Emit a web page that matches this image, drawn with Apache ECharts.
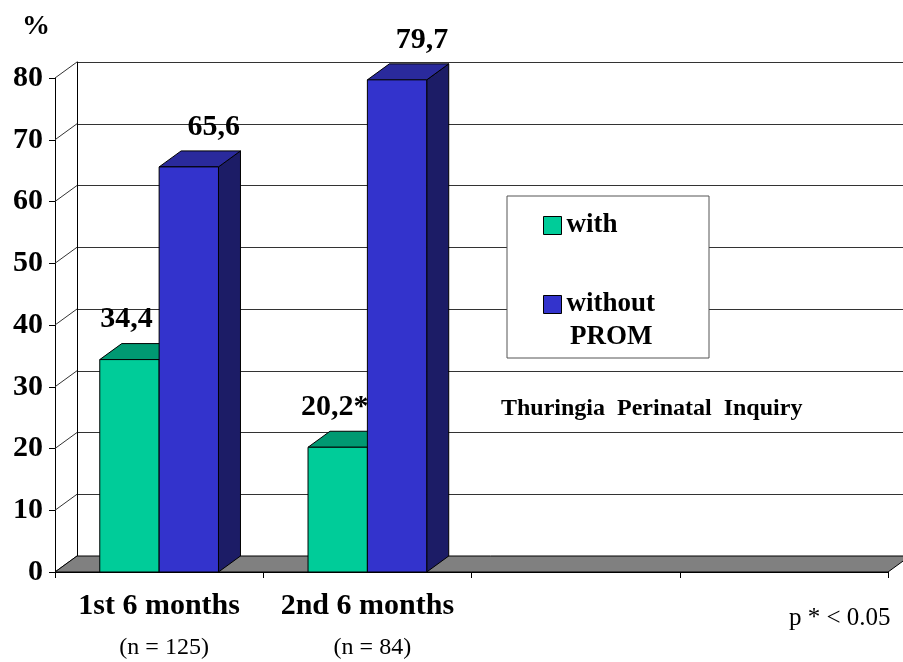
<!DOCTYPE html>
<html>
<head>
<meta charset="utf-8">
<title>PROM by half-year</title>
<script src="https://cdn.jsdelivr.net/npm/echarts@6/dist/echarts.min.js"></script>
<style>
  html, body { margin: 0; padding: 0; background: #fff; }
  #chart { width: 903px; height: 662px; }
</style>
</head>
<body>
<div id="chart"></div>
<script>
// ---- data ----
const categories = ['1st 6 months', '2nd 6 months', '', ''];
const sampleSizes = ['(n = 125)', '(n = 84)', '', ''];
const withProm = [34.4, 20.2];
const withoutProm = [65.6, 79.7];
const withMarks = ['', '*'];
const withoutMarks = ['', ''];
const yMin = 0, yMax = 80, yStep = 10;

// ---- look ----
const SERIF = "'Liberation Serif', 'Times New Roman', serif";
const DX = 22, DY = -16;          // depth of the 3-D box
const BAR_FRAC = 0.285;           // bar width as share of a category band
const LABEL_SHIFT = [-3, 25];     // horizontal nudge of value labels per series
const colors = {
  with:    { front: '#00CC99', top: '#009972', side: '#006B50' },
  without: { front: '#3333CC', top: '#2A2A9C', side: '#1C1C66' }
};

const fmt = v => String(v.toFixed(1)).replace('.', ',');

// geometry of one bar, in pixels, from the axes
function barBox(slot, api) {
  const cat = api.value(0), val = api.value(1);
  const base = api.coord([cat, 0]);
  const top = api.coord([cat, val]);
  const band = api.size([1, 0])[0];
  const w = band * BAR_FRAC;
  const x0 = base[0] + (slot === 0 ? -w : 0);
  return { x0: x0, x1: x0 + w, yb: base[1], yt: top[1], val: val };
}

function barRenderer(slot, palette) {
  return function (params, api) {
    const b = barBox(slot, api);
    const edge = { stroke: '#000', lineWidth: 1 };
    return {
      type: 'group',
      children: [
        { type: 'polygon', shape: { points: [[b.x1, b.yt], [b.x1 + DX, b.yt + DY], [b.x1 + DX, b.yb + DY], [b.x1, b.yb]] },
          style: Object.assign({ fill: palette.side }, edge) },
        { type: 'polygon', shape: { points: [[b.x0, b.yt], [b.x0 + DX, b.yt + DY], [b.x1 + DX, b.yt + DY], [b.x1, b.yt]] },
          style: Object.assign({ fill: palette.top }, edge) },
        { type: 'rect', shape: { x: b.x0, y: b.yt, width: b.x1 - b.x0, height: b.yb - b.yt },
          style: Object.assign({ fill: palette.front }, edge) }
      ]
    };
  };
}

function labelRenderer(slot, marks) {
  return function (params, api) {
    const b = barBox(slot, api);
    return { type: 'text', x: (b.x0 + b.x1) / 2 + LABEL_SHIFT[slot], y: b.yt + DY - 24,
             style: { text: fmt(b.val) + (marks[params.dataIndex] || ''), fill: '#000',
                      font: 'bold 30px ' + SERIF, align: 'center', verticalAlign: 'middle' } };
  };
}

const chart = echarts.init(document.getElementById('chart'), null, { renderer: 'canvas' });

const frontGrid = { left: 55, top: 78, width: 833, height: 494 };
const backGrid = { left: 55 + DX, top: 78 + DY, width: 833, height: 494 };

chart.setOption({
  animation: false,
  backgroundColor: '#fff',
  grid: [
    Object.assign({ containLabel: false }, frontGrid),
    Object.assign({ containLabel: false }, backGrid)
  ],
  xAxis: [
    {
      type: 'category', gridIndex: 0, data: categories,
      axisLine: { lineStyle: { color: '#000', width: 1 } },
      axisTick: { show: true, length: 6, lineStyle: { color: '#000' } },
      axisLabel: {
        interval: 0, margin: 17, color: '#000',
        formatter: (value, index) => value ? `{a|${value}}\n{b|${sampleSizes[index]}}` : '',
        rich: {
          a: { fontFamily: SERIF, fontWeight: 'bold', fontSize: 30, lineHeight: 34, color: '#000' },
          b: { fontFamily: SERIF, fontSize: 24, lineHeight: 50, color: '#000', padding: [0, 0, 0, 10] }
        }
      },
      splitLine: { show: false }
    },
    {
      type: 'category', gridIndex: 1, data: categories, show: false
    }
  ],
  yAxis: [
    {
      type: 'value', gridIndex: 0, min: yMin, max: yMax, interval: yStep,
      name: '%', nameLocation: 'end', nameGap: 51,
      nameTextStyle: { fontFamily: SERIF, fontWeight: 'bold', fontSize: 28, color: '#000',
                       align: 'right', verticalAlign: 'middle', padding: [0, 5, 0, 0] },
      axisLine: { show: true, lineStyle: { color: '#000', width: 1 } },
      axisTick: { show: true, length: 6, lineStyle: { color: '#000' } },
      axisLabel: { margin: 12, color: '#000', fontFamily: SERIF, fontWeight: 'bold', fontSize: 30 },
      splitLine: { show: false }
    },
    {
      type: 'value', gridIndex: 1, min: yMin, max: yMax, interval: yStep,
      axisLine: { show: true, lineStyle: { color: '#000', width: 1 } },
      axisTick: { show: false },
      axisLabel: { show: false },
      splitLine: { show: true, lineStyle: { color: '#333', width: 1 } }
    }
  ],
  legend: {
    data: ['with', 'without'],
    orient: 'vertical', left: 543, top: 212, padding: 0,
    icon: 'rect', itemWidth: 18, itemHeight: 18, itemGap: 52,
    selectedMode: false,
    itemStyle: { borderColor: '#000', borderWidth: 1 },
    textStyle: { fontFamily: SERIF, fontWeight: 'bold', fontSize: 27, lineHeight: 18, color: '#000' }
  },
  graphic: [
    { type: 'rect', z: 3, shape: { x: 507, y: 196, width: 202, height: 162 },
      style: { fill: '#fff', stroke: '#555', lineWidth: 1 } },
    { type: 'text', z: 5, left: 570, top: 324,
      style: { text: 'PROM', font: 'bold 27px ' + SERIF, fill: '#000' } },
    { type: 'text', z: 5, left: 501, top: 397,
      style: { text: 'Thuringia  Perinatal  Inquiry', font: 'bold 24px ' + SERIF, fill: '#000' } },
    { type: 'text', z: 5, left: 789, top: 606,
      style: { text: 'p * < 0.05', font: '25px ' + SERIF, fill: '#000' } }
  ],
  series: [
    {
      // left side wall: diagonals from the front axis to the back wall
      type: 'custom', xAxisIndex: 0, yAxisIndex: 0, silent: true, z: 1,
      data: [0, 10, 20, 30, 40, 50, 60, 70, 80].filter(v => v >= yMin && v <= yMax).map(v => [0, v]),
      renderItem: (params, api) => {
        const x = params.coordSys.x;
        const y = api.coord([0, api.value(1)])[1];
        return { type: 'line', shape: { x1: x, y1: y, x2: x + DX, y2: y + DY },
                 style: { stroke: '#333', lineWidth: 1 } };
      }
    },
    {
      // floor
      type: 'custom', xAxisIndex: 0, yAxisIndex: 0, silent: true, z: 1,
      data: [[0, 0]],
      renderItem: (params, api) => {
        const cs = params.coordSys;
        const yb = cs.y + cs.height;
        return { type: 'polygon',
                 shape: { points: [[cs.x, yb], [cs.x + cs.width, yb], [cs.x + cs.width + DX, yb + DY], [cs.x + DX, yb + DY]] },
                 style: { fill: '#808080', stroke: '#000', lineWidth: 1 } };
      }
    },
    {
      name: 'with', type: 'custom', xAxisIndex: 0, yAxisIndex: 0, z: 3,
      itemStyle: { color: colors.with.front },
      data: withProm.map((v, i) => [i, v]),
      renderItem: barRenderer(0, colors.with)
    },
    {
      name: 'without', type: 'custom', xAxisIndex: 0, yAxisIndex: 0, z: 4,
      itemStyle: { color: colors.without.front },
      data: withoutProm.map((v, i) => [i, v]),
      renderItem: barRenderer(1, colors.without)
    },
    {
      // value labels above the bars, kept on top of every bar
      type: 'custom', xAxisIndex: 0, yAxisIndex: 0, z: 10, silent: true,
      data: withProm.map((v, i) => [i, v]),
      renderItem: labelRenderer(0, withMarks)
    },
    {
      type: 'custom', xAxisIndex: 0, yAxisIndex: 0, z: 10, silent: true,
      data: withoutProm.map((v, i) => [i, v]),
      renderItem: labelRenderer(1, withoutMarks)
    }
  ]
});
</script>
</body>
</html>
